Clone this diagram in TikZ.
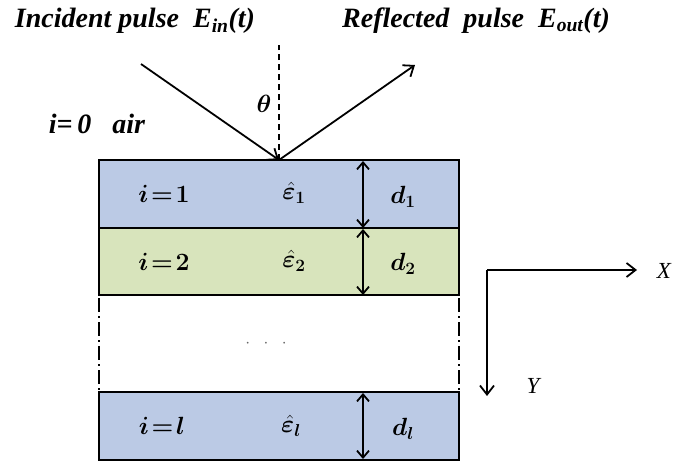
\documentclass[tikz,border=0pt]{standalone}
\usepackage{amsmath,bm}
\usepackage{fontspec}
\setmainfont{Liberation Serif}
\usetikzlibrary{arrows.meta}
\definecolor{lblue}{RGB}{187,202,229}
\definecolor{lgreen}{RGB}{216,228,188}
\tikzset{
  layer/.style={draw=black, line width=2.6pt, minimum width=360pt, inner sep=0pt, outer sep=0pt},
  thick arrow/.style={line width=1.8pt, -{Straight Barb[length=9pt,width=14pt,line width=1.8pt]}},
  darrow/.style={line width=1.8pt, {Straight Barb[length=7pt,width=12pt,line width=1.8pt]}-{Straight Barb[length=7pt,width=12pt,line width=1.8pt]}},
  lab/.style={font=\fontsize{28}{30}\selectfont\bfseries\itshape, inner sep=0pt},
  llab/.style={font=\fontsize{27}{29}\selectfont, inner sep=0pt},
  axlab/.style={font=\fontsize{23}{23}\selectfont\itshape, inner sep=0pt},
  side/.style={line width=2.4pt, dash pattern=on 14pt off 4pt on 2pt off 4pt}
}
\begin{document}
\begin{tikzpicture}[x=1pt,y=-1pt]
\useasboundingbox (0,0) rectangle (676,463);
% layers
\node[layer, fill=lblue, minimum height=68pt] (L1) at (279,194) {};
\node[layer, fill=lgreen, minimum height=67pt] (L2) at (279,261.5) {};
\node[layer, fill=lblue, minimum height=68pt] (Ll) at (279,426) {};
% dash-dot sides
\coordinate (sl1) at (99,298); \coordinate (sl2) at (99,390);
\coordinate (sr1) at (459,298); \coordinate (sr2) at (459,390);
\draw[side] (sl1) -- (sl2);
\draw[side] (sr1) -- (sr2);
\node[font=\fontsize{18}{18}\selectfont, text=black!60, inner sep=0pt] (dots) at (266,344) {$\cdot\;\;\cdot\;\;\cdot$};
% thickness arrows
\coordinate (dx1a) at (363,161); \coordinate (dx1b) at (363,228);
\coordinate (dx2a) at (363,229); \coordinate (dx2b) at (363,295);
\coordinate (dxla) at (363,393); \coordinate (dxlb) at (363,459);
\draw[darrow] (dx1a) -- (dx1b);
\draw[darrow] (dx2a) -- (dx2b);
\draw[darrow] (dxla) -- (dxlb);
% labels in layers
\node[llab] (i1) at (164,194) {$\bm{i\!=\!1}$};
\node[llab] (e1) at (294,193) {$\bm{\hat{\varepsilon}_1}$};
\node[llab] (d1) at (403,197) {$\bm{d_1}$};
\node[llab] (i2) at (164,262) {$\bm{i\!=\!2}$};
\node[llab] (e2) at (294,261) {$\bm{\hat{\varepsilon}_2}$};
\node[llab] (d2) at (403,264) {$\bm{d_2}$};
\node[llab] (il) at (162,426) {$\bm{i\!=\!l}$};
\node[llab] (el) at (291,426) {$\bm{\hat{\varepsilon}_l}$};
\node[llab] (dl) at (403,429) {$\bm{d_l}$};
% incident / reflected
\coordinate (hit) at (L1.north);
\coordinate (inc) at (141,64);
\coordinate (refl) at (415,65);
\coordinate (ntop) at (279,45);
\draw[line width=1.6pt, dashed, dash pattern=on 6pt off 4pt] (hit) -- (ntop);
\draw[thick arrow] (inc) -- (hit);
\draw[thick arrow] (hit) -- (refl);
\node[lab] (inclab) at (135,21) {Incident pulse\ \ E\textsubscript{in}(t)};
\node[lab] (reflab) at (476,21) {Reflected\ \ pulse\ \ E\textsubscript{out}(t)};
\node[lab] (theta) at (264,104) {$\bm{\theta}$};
\node[lab] (air) at (97,124) {\textit{i}=\,0\ \ \ air};
% axes
\coordinate (org) at (487,270);
\coordinate (xend) at (637,270);
\coordinate (yend) at (487,396);
\draw[thick arrow] (org) -- (xend);
\draw[thick arrow] (org) -- (yend);
\node[axlab] (X) at (664,271) {X};
\node[axlab] (Y) at (533,386) {Y};
\end{tikzpicture}
\end{document}
